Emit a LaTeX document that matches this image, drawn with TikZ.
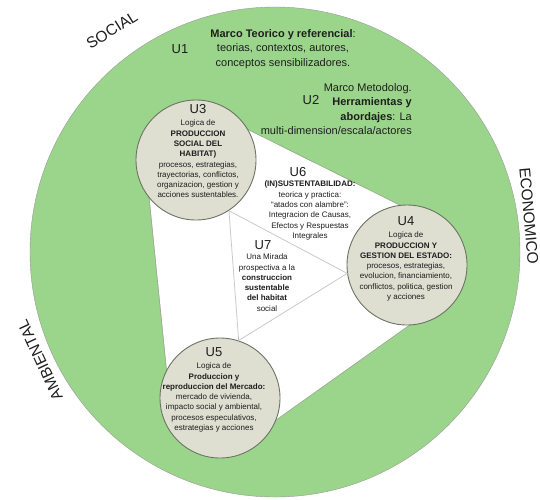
\documentclass[tikz,border=0pt]{standalone}
\usepackage{fontspec}
\setmainfont{Liberation Sans}
\usetikzlibrary{positioning}
\definecolor{ringgreen}{HTML}{9BD58B}
\definecolor{blobfill}{HTML}{DEDED1}
\definecolor{blobline}{HTML}{6B7563}
\definecolor{hullline}{HTML}{9AA392}
\definecolor{innerline}{HTML}{CACACA}
\definecolor{inkgray}{HTML}{1E1E1E}

\begin{document}
\begin{tikzpicture}[x=1pt, y=-1pt, text=inkgray]
        \tikzstyle{ring} = [circle, minimum size=490pt, inner sep=0pt, draw=gray!80, fill=ringgreen]
        \tikzstyle{blob} = [circle, minimum size=120pt, inner sep=0pt, draw=blobline, line width=0.9pt, fill=blobfill]
        \tikzstyle{unitname} = [inner sep=0pt, font=\fontsize{13}{13}\selectfont]
        \tikzstyle{blobtext} = [inner sep=0pt, align=center, font=\fontsize{8}{10.3}\selectfont]
        \tikzstyle{frametext} = [inner sep=0pt, font=\fontsize{11}{14.5}\selectfont]
        \tikzstyle{axisname} = [inner sep=0pt, font=\fontsize{15.5}{15.5}\selectfont]
        \tikzstyle{hull} = [line width=100pt, line join=round]
        \tikzstyle{thinline} = [draw=innerline, line width=0.8pt]

        \useasboundingbox (0,0) rectangle (540,499);
        \node (ring) [ring] at (275,252) {};

        \coordinate (c3) at (196,160);
        \coordinate (c4) at (407,265);
        \coordinate (c5) at (220,398);
        \draw[hull, draw=hullline, line width=101.5pt] (c3) -- (c4) -- (c5) -- cycle;
        \draw[hull, draw=white, fill=white] (c3) -- (c4) -- (c5) -- cycle;

        \node (U3) [blob] at (c3) {};
        \node (U4) [blob] at (c4) {};
        \node (U5) [blob] at (c5) {};
        \draw[thinline] (U3.-57) -- (U4.188) -- (U5.72) -- (U3.-57);

        \node (social) [axisname, rotate=32] at (112,30) {SOCIAL};
        \node (economico) [axisname, rotate=-85] at (529,216) {ECONOMICO};
        \node (ambiental) [axisname, rotate=115] at (40,360) {AMBIENTAL};

        \node (U1lab) [unitname] at (180,49) {U1};
        \node (U1txt) [frametext, align=center] at (283,49) {\textbf{Marco Teorico y referencial}:\\teorias, contextos, autores,\\conceptos sensibilizadores.};
        \node (U2lab) [unitname] at (311,100) {U2};
        \node (U2txt) [frametext, align=right, anchor=north east] at (412,83) {Marco Metodolog.\\\textbf{Herramientas y}\\\textbf{abordajes}: La\\multi-dimension/escala/actores};

        \node (U3lab) [unitname] at (198,109) {U3};
        \node (U3txt) [blobtext, below=6pt of U3lab] {Logica de\\\textbf{PRODUCCION}\\\textbf{SOCIAL DEL}\\\textbf{HABITAT)}\\procesos, estrategias,\\trayectorias, conflictos,\\organizacion, gestion y\\acciones sustentables.};
        \node (U4lab) [unitname] at (406,221) {U4};
        \node (U4txt) [blobtext, below=6pt of U4lab] {Logica de\\\textbf{PRODUCCION Y}\\\textbf{GESTION DEL ESTADO:}\\procesos, estrategias,\\evolucion, financiamiento,\\conflictos, politica, gestion\\y acciones};
        \node (U5lab) [unitname] at (214,352) {U5};
        \node (U5txt) [blobtext, below=6pt of U5lab] {Logica de\\\textbf{Produccion y}\\\textbf{reproduccion del Mercado:}\\mercado de vivienda,\\impacto social y ambiental,\\procesos especulativos,\\estrategias y acciones};
        \node (U6lab) [unitname] at (298,172) {U6};
        \node (U6txt) [blobtext, below=4pt of U6lab, xshift=12pt] {\textbf{(IN)SUSTENTABILIDAD:}\\teorica y practica:\\“atados con alambre”:\\Integracion de Causas,\\Efectos y Respuestas\\Integrales};
        \node (U7lab) [unitname] at (263,245) {U7};
        \node (U7txt) [blobtext, below=4pt of U7lab, xshift=4pt] {Una Mirada\\prospectiva a la\\\textbf{construccion}\\\textbf{sustentable}\\\textbf{del habitat}\\social};
\end{tikzpicture}
\end{document}
